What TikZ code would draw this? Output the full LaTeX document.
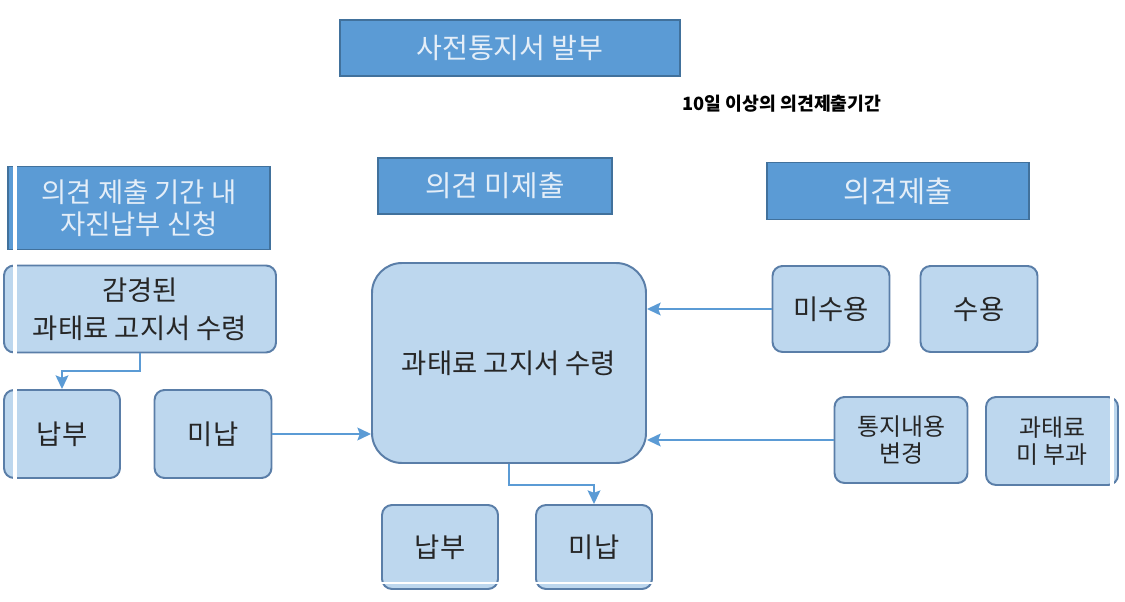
\documentclass[tikz,border=0pt]{standalone}
\usepackage{fontspec}
\setmainfont{Noto Sans CJK KR}
\usetikzlibrary{arrows.meta}

\definecolor{hdrblue}{HTML}{5B9BD5}
\definecolor{hdrline}{HTML}{41719C}
\definecolor{hdrtext}{HTML}{E4EEF8}
\definecolor{boxblue}{HTML}{BDD7EE}
\definecolor{boxline}{HTML}{5A7EA8}
\definecolor{flowblue}{HTML}{5B9BD5}
\definecolor{boxtext}{HTML}{262626}

\newcommand{\px}{0.025cm}

\tikzset{
    header/.style={fill=hdrblue, draw=hdrline, line width=1.2pt, text=hdrtext,
        align=center, inner sep=0pt, font=\fontsize{20}{22}\selectfont},
    stepbox/.style={fill=boxblue, draw=boxline, line width=1.4pt, text=boxtext,
        rounded corners=0.25cm, align=center, inner sep=0pt,
        font=\fontsize{19.5}{27}\selectfont},
    flow/.style={draw=flowblue, line width=1.4pt,
        -{Stealth[length=3.4mm,width=3.2mm,inset=0.6mm]}},
}

\begin{document}
\begin{tikzpicture}[x=0.025cm, y=-0.025cm]
    \useasboundingbox (0,0) rectangle (1125,602);

    % Headers
    \node[header, minimum width=340*\px, minimum height=56*\px] (notice) at (510,48) {사전통지서 발부};
    \node[font=\bfseries\fontsize{13}{15}\selectfont, text=black] (period) at (782,104) {10일 이상의 의견제출기간};

    \node[header, minimum width=262*\px, minimum height=83*\px,
          font=\fontsize{19.5}{22.5}\selectfont] (selfpay) at (139,208) {의견 제출 기간 내\\자진납부 신청};
    \node[header, minimum width=234*\px, minimum height=56*\px,
          font=\fontsize{20.5}{22}\selectfont] (nosubmit) at (495,186) {의견 미제출};
    \node[header, minimum width=262*\px, minimum height=57*\px,
          font=\fontsize{21}{22}\selectfont] (submit) at (898,191) {의견제출};

    % Left column
    \node[stepbox, minimum width=272*\px, minimum height=87*\px] (reduced) at (140,309) {감경된\\과태료 고지서 수령};
    \node[stepbox, minimum width=116*\px, minimum height=88*\px] (paidL) at (62,434) {납부};
    \node[stepbox, minimum width=117*\px, minimum height=88*\px] (unpaidL) at (213,434) {미납};

    % Centre column
    \node[stepbox, rounded corners=0.75cm, minimum width=274*\px, minimum height=200*\px] (bill) at (509,363) {과태료 고지서 수령};
    \node[stepbox, minimum width=116*\px, minimum height=84*\px] (paidB) at (440,547) {납부};
    \node[stepbox, minimum width=116*\px, minimum height=84*\px] (unpaidB) at (594,547) {미납};

    % Right column
    \node[stepbox, minimum width=117*\px, minimum height=86*\px] (reject) at (831,309) {미수용};
    \node[stepbox, minimum width=117*\px, minimum height=86*\px] (accept) at (979,309) {수용};
    \node[stepbox, minimum width=133*\px, minimum height=86*\px,
          font=\fontsize{17}{19}\selectfont] (change) at (901,440) {통지내용\\변경};
    \node[stepbox, minimum width=132*\px, minimum height=88*\px,
          font=\fontsize{17}{19}\selectfont] (nofine) at (1052,441) {과태료\\미 부과};

    % Connectors
    \draw[flow] (reduced.south) -- ++(0,18) -| (paidL.north);
    \draw[flow] (unpaidL) -- (bill.west |- unpaidL);
    \draw[flow] (reject) -- (bill.east |- reject);
    \draw[flow] (change) -- (bill.east |- change);
    \draw[flow] (bill.south) -- ++(0,21) -| (unpaidB.north);

    % Scan gaps
    \draw[white, line width=2.5pt] (15,156) -- (15,482);
    \draw[white, line width=2.5pt] (1112,394) -- (1112,488);
    \draw[white, line width=2pt] (378,583) -- (656,583);
\end{tikzpicture}
\end{document}
